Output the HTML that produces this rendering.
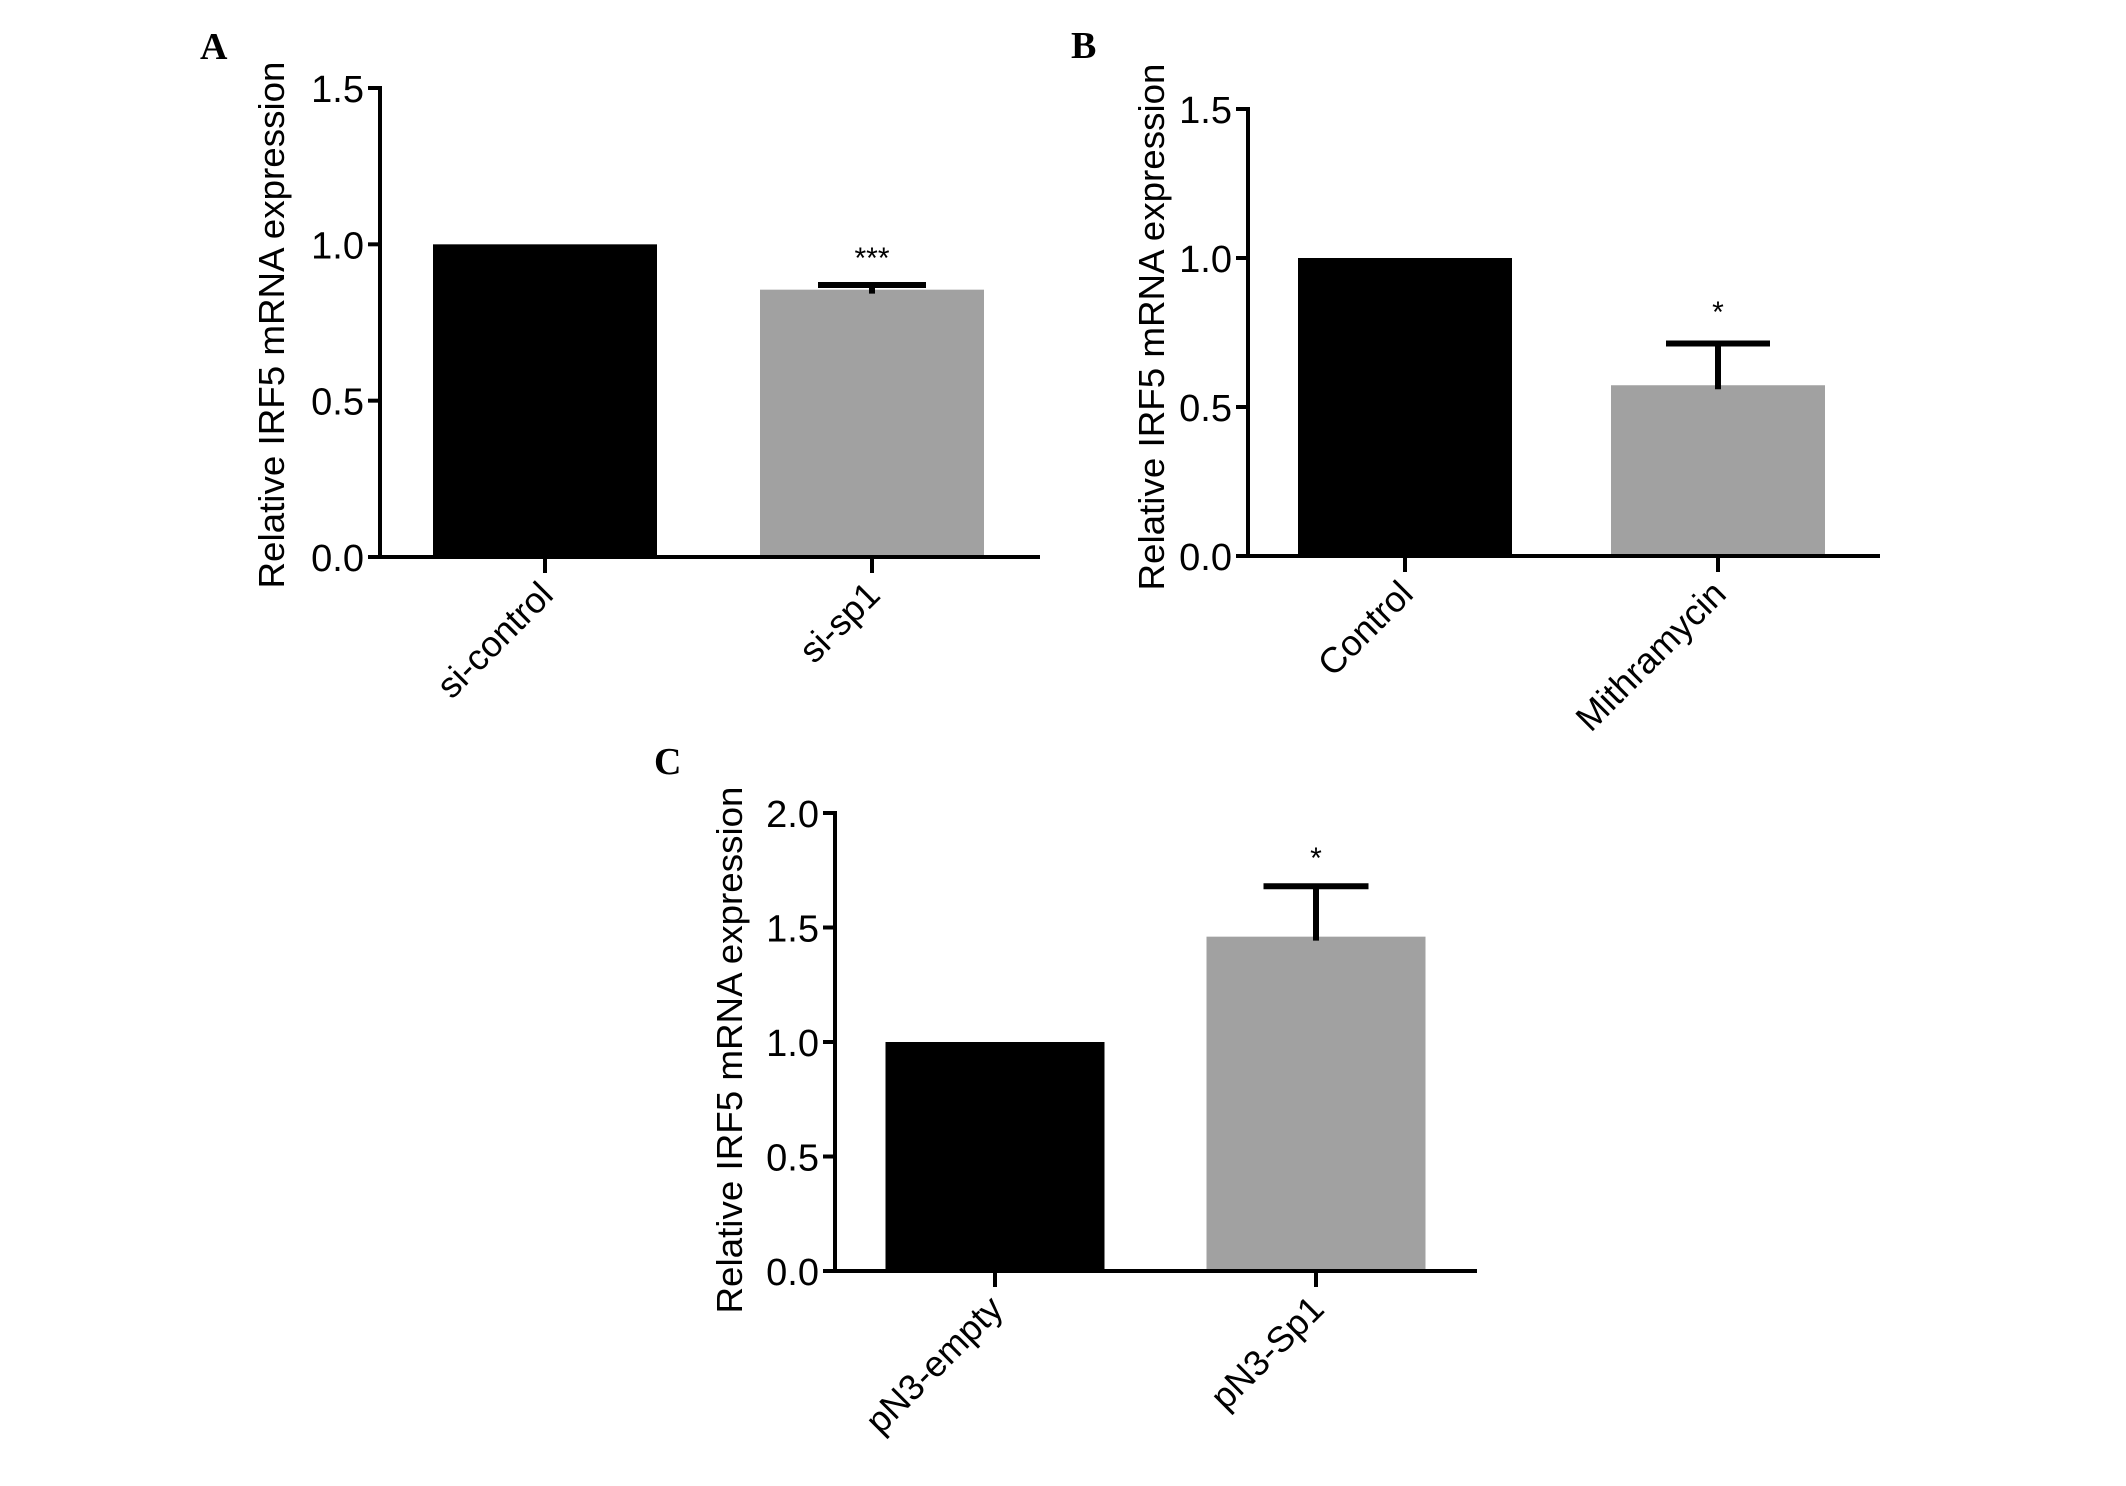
<!DOCTYPE html>
<html><head><meta charset="utf-8"><style>
html,body{margin:0;padding:0;background:#fff;}
svg{display:block;}
text{font-family:"Liberation Sans",Arial,sans-serif;fill:#000;}
.pl{font-family:"Liberation Serif","Times New Roman",serif;font-weight:bold;font-size:38px;}
</style></head><body>
<svg id="fig" width="2126" height="1486" viewBox="0 0 2126 1486" xmlns="http://www.w3.org/2000/svg"></svg>
<script>
// Panel A data
const catsA = ["si-control", "si-sp1"];
const valsA = [1.0, 0.855];
const errA = [0, 0.015];
const sigA = ["", "***"];
const ticksA = ["0.0", "0.5", "1.0", "1.5"];
// Panel B data
const catsB = ["Control", "Mithramycin"];
const valsB = [1.0, 0.573];
const errB = [0, 0.14];
const sigB = ["", "*"];
const ticksB = ["0.0", "0.5", "1.0", "1.5"];
// Panel C data
const catsC = ["pN3-empty", "pN3-Sp1"];
const valsC = [1.0, 1.46];
const errC = [0, 0.22];
const sigC = ["", "*"];
const ticksC = ["0.0", "0.5", "1.0", "1.5", "2.0"];

const NS = "http://www.w3.org/2000/svg";
const svg = document.getElementById("fig");
function mk(tag, attrs, parent, txt){
  const e = document.createElementNS(NS, tag);
  for (const k in attrs) e.setAttribute(k, attrs[k]);
  if (txt !== undefined) e.textContent = txt;
  (parent || svg).appendChild(e);
  return e;
}
function panel(cfg){
  const g = mk("g", {});
  
  
  const yMax = parseFloat(cfg.ticks[cfg.ticks.length-1]);
  const y = v => cfg.y0 - (v / yMax) * (cfg.y0 - cfg.yTop);
  const lt = mk("text", {x: cfg.letter[0], y: cfg.letter[1], class: "pl"}, g, cfg.id);
  
  
  cfg.cats.forEach((c, i) => {
    const cx = cfg.tickX[i];
    const r = mk("rect", {x: cx - cfg.bw/2, y: y(cfg.vals[i]), width: cfg.bw, height: cfg.y0 - y(cfg.vals[i]), fill: i === 0 ? "#000" : "#a1a1a1"}, g);
    
    
    if (cfg.err[i] > 0) {
      const top = y(cfg.vals[i] + cfg.err[i]);
      const el = mk("path", {d: `M${cx},${y(cfg.vals[i])+4}V${top}M${cx-cfg.cap/2},${top}H${cx+cfg.cap/2}`, stroke: "#000", "stroke-width": 6, fill: "none"}, g);
      
      
    }
    if (cfg.sig[i]) {
      const s = mk("text", {x: cx, y: cfg.sigY, "text-anchor": "middle", "font-size": 30, fill: "#223"}, g, cfg.sig[i]);
      
      
    }
    const tk = mk("line", {x1: cx, x2: cx, y1: cfg.y0, y2: cfg.y0 + 16, stroke: "#000", "stroke-width": 4}, g);
    
    
    const ax = cx + 10, ay = cfg.y0 + 40;
    const tl = mk("text", {x: ax, y: ay, "text-anchor": "end", "font-size": 36, transform: `rotate(-45 ${ax} ${ay})`}, g, c);
    
    
  });
  const ya = mk("line", {x1: cfg.axX, x2: cfg.axX, y1: cfg.yTop - 2, y2: cfg.y0 + 2, stroke: "#000", "stroke-width": 4}, g);
  
  
  const xa = mk("line", {x1: cfg.axX - 12, x2: cfg.xEnd, y1: cfg.y0, y2: cfg.y0, stroke: "#000", "stroke-width": 4}, g);
  
  
  cfg.ticks.forEach(t => {
    const yy = y(parseFloat(t));
    const l = mk("line", {x1: cfg.axX - 12, x2: cfg.axX, y1: yy, y2: yy, stroke: "#000", "stroke-width": 4}, g);
    
    
    const tx = mk("text", {x: cfg.axX - 16, y: yy + 14, "text-anchor": "end", "font-size": 38}, g, t);
    
    
  });
  const tt = mk("text", {x: cfg.title[0], y: cfg.title[1], "text-anchor": "middle", "font-size": 36, textLength: 527, lengthAdjust: "spacingAndGlyphs", transform: `rotate(-90 ${cfg.title[0]} ${cfg.title[1]})`}, g, "Relative IRF5 mRNA expression");
  
  
}
panel({id: "A", cats: catsA, vals: valsA, err: errA, sig: sigA, ticks: ticksA,
  y0: 557, yTop: 88, axX: 380, xEnd: 1040, tickX: [545, 872], bw: 224, cap: 108,
  sigY: 268, letter: [200, 59], title: [284, 325]});
panel({id: "B", cats: catsB, vals: valsB, err: errB, sig: sigB, ticks: ticksB,
  y0: 556, yTop: 109, axX: 1248, xEnd: 1880, tickX: [1405, 1718], bw: 214, cap: 104,
  sigY: 322, letter: [1071, 58], title: [1164, 327]});
panel({id: "C", cats: catsC, vals: valsC, err: errC, sig: sigC, ticks: ticksC,
  y0: 1271, yTop: 813, axX: 835, xEnd: 1477, tickX: [995, 1316], bw: 219, cap: 105,
  sigY: 868, letter: [654, 774], title: [742, 1050]});
</script>
</body></html>
